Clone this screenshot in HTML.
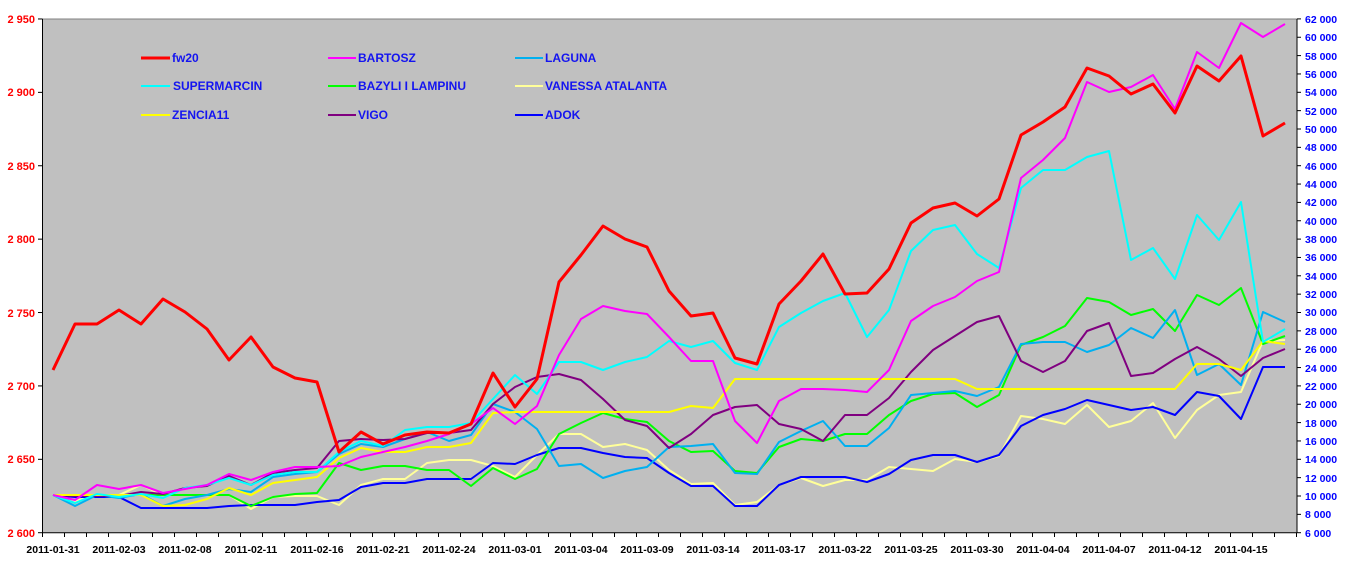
<!DOCTYPE html>
<html><head><meta charset="utf-8"><style>
html,body{margin:0;padding:0;background:#fff;}
svg{display:block;font-family:"Liberation Sans",Arial,sans-serif;font-weight:bold;}
</style></head><body>
<svg id="s" width="1362" height="572" viewBox="0 0 1362 572" xmlns="http://www.w3.org/2000/svg">
<rect x="42.5" y="19" width="1254.5" height="513.5" fill="#C0C0C0"/>
<line x1="42.5" y1="19" x2="1297" y2="19" stroke="#808080" stroke-width="1"/>
<g id="grid"></g>
<g id="lines" fill="none" stroke-linejoin="round"></g>
<line x1="42.5" y1="19" x2="42.5" y2="533" stroke="#000" stroke-width="1"/>
<line x1="1297" y1="19" x2="1297" y2="533" stroke="#000" stroke-width="1"/>
<line x1="42.5" y1="532.7" x2="1297" y2="532.7" stroke="#000" stroke-width="1"/>
<g font-size="11" fill="#FF0000" text-anchor="end">
<text x="35" y="23">2 950</text><text x="35" y="96">2 900</text><text x="35" y="170">2 850</text>
<text x="35" y="243">2 800</text><text x="35" y="317">2 750</text><text x="35" y="390">2 700</text>
<text x="35" y="463">2 650</text><text x="35" y="537">2 600</text>
</g>
<g font-size="10.5" fill="#0000FF" text-anchor="start">
<text x="1305" y="23">62 000</text><text x="1305" y="41">60 000</text><text x="1305" y="60">58 000</text><text x="1305" y="78">56 000</text>
<text x="1305" y="96">54 000</text><text x="1305" y="115">52 000</text><text x="1305" y="133">50 000</text><text x="1305" y="151">48 000</text>
<text x="1305" y="170">46 000</text><text x="1305" y="188">44 000</text><text x="1305" y="206">42 000</text><text x="1305" y="225">40 000</text>
<text x="1305" y="243">38 000</text><text x="1305" y="261">36 000</text><text x="1305" y="280">34 000</text><text x="1305" y="298">32 000</text>
<text x="1305" y="316">30 000</text><text x="1305" y="335">28 000</text><text x="1305" y="353">26 000</text><text x="1305" y="372">24 000</text>
<text x="1305" y="390">22 000</text><text x="1305" y="408">20 000</text><text x="1305" y="427">18 000</text><text x="1305" y="445">16 000</text>
<text x="1305" y="463">14 000</text><text x="1305" y="482">12 000</text><text x="1305" y="500">10 000</text><text x="1305" y="518">8 000</text>
<text x="1305" y="537">6 000</text>
</g>
<g font-size="10.5" fill="#000" text-anchor="middle">
<text x="53" y="553">2011-01-31</text><text x="119" y="553">2011-02-03</text><text x="185" y="553">2011-02-08</text>
<text x="251" y="553">2011-02-11</text><text x="317" y="553">2011-02-16</text><text x="383" y="553">2011-02-21</text>
<text x="449" y="553">2011-02-24</text><text x="515" y="553">2011-03-01</text><text x="581" y="553">2011-03-04</text>
<text x="647" y="553">2011-03-09</text><text x="713" y="553">2011-03-14</text><text x="779" y="553">2011-03-17</text>
<text x="845" y="553">2011-03-22</text><text x="911" y="553">2011-03-25</text><text x="977" y="553">2011-03-30</text>
<text x="1043" y="553">2011-04-04</text><text x="1109" y="553">2011-04-07</text><text x="1175" y="553">2011-04-12</text>
<text x="1241" y="553">2011-04-15</text>
</g>
<g font-size="12" fill="#1414F0">
<line x1="141" y1="58" x2="170" y2="58" stroke="#FF0000" stroke-width="3"/><text x="172" y="62">fw20</text>
<line x1="328" y1="58" x2="356" y2="58" stroke="#FF00FF" stroke-width="2"/><text x="358" y="62">BARTOSZ</text>
<line x1="515" y1="58" x2="543" y2="58" stroke="#00B0F0" stroke-width="2"/><text x="545" y="62">LAGUNA</text>
<line x1="141" y1="86" x2="170" y2="86" stroke="#00FFFF" stroke-width="2"/><text x="173" y="90">SUPERMARCIN</text>
<line x1="328" y1="86" x2="356" y2="86" stroke="#00FF00" stroke-width="2"/><text x="358" y="90">BAZYLI I LAMPINU</text>
<line x1="515" y1="86" x2="543" y2="86" stroke="#FFFF99" stroke-width="2"/><text x="545" y="90">VANESSA ATALANTA</text>
<line x1="141" y1="115" x2="170" y2="115" stroke="#FFFF00" stroke-width="2"/><text x="172" y="119">ZENCIA11</text>
<line x1="328" y1="115" x2="356" y2="115" stroke="#800080" stroke-width="2"/><text x="358" y="119">VIGO</text>
<line x1="515" y1="115" x2="543" y2="115" stroke="#0000FF" stroke-width="2"/><text x="545" y="119">ADOK</text>
</g>
</svg>
<script>
var NS="http://www.w3.org/2000/svg";
function el(p,t,a){var e=document.createElementNS(NS,t);for(var k in a)e.setAttribute(k,a[k]);p.appendChild(e);return e;}
var g=document.getElementById('grid');
for(var v=0;v<=7;v++){var y=532.7-v*73.39;el(g,'line',{x1:38,x2:42.5,y1:y,y2:y,stroke:'#000'});}
for(var v=0;v<=28;v++){var y=532.7-v*18.35;el(g,'line',{x1:1297,x2:1301,y1:y,y2:y,stroke:'#000'});}
for(var k=0;k<=57;k++){var x=42.5+22*k;el(g,'line',{x1:x,x2:x,y1:532.7,y2:537,stroke:'#000'});}
var S=[
["#FFFF99",2,[495,501,495,495,485,495,495,495,495,509,497,496,496,505,485,479,479,463,460,460,466,477,455,434,434,447,444,450,470,484,483,505,502,485,478,486,480,480,467,469,471,459,462,456,416,419,424,405,427,421,403,438,410,395,392,341,340]],
["#0000FF",2,[495,497,497,497,508,508,508,508,506,505,505,505,502,500,487,483,483,479,479,479,463,464,455,448,448,453,457,458,473,486,486,506,506,485,477,477,477,482,474,460,455,455,462,455,426,415,409,400,405,410,407,415,392,396,419,367,367]],
["#00FF00",2,[495,495,495,495,495,495,495,495,495,506,497,494,493,463,470,466,466,470,470,486,468,479,469,434,423,413,419,422,441,452,451,471,473,447,439,441,434,434,415,401,394,393,407,395,345,337,326,298,302,315,309,331,295,305,288,344,336]],
["#00B0F0",2,[495,506,495,498,494,506,499,495,489,492,477,474,472,454,444,447,439,432,441,435,404,412,429,466,464,478,471,467,447,446,444,473,474,442,431,421,446,446,428,395,393,391,396,387,344,342,342,352,345,328,338,310,375,364,385,312,322]],
["#800080",2,[495,496,496,496,492,494,488,486,476,485,473,470,468,441,439,440,439,433,433,430,404,387,377,374,380,399,420,426,448,434,415,407,405,424,429,441,415,415,398,372,350,336,322,316,361,372,361,331,323,376,373,359,347,359,376,358,349]],
["#FFFF00",2,[495,495,495,495,495,506,505,499,488,495,483,480,477,458,448,452,452,447,447,443,413,412,412,412,412,412,412,412,412,406,408,379,379,379,379,379,379,379,379,379,379,379,389,389,389,389,389,389,389,389,389,389,364,364,370,341,344]],
["#00FFFF",2,[495,503,494,497,494,498,488,485,478,485,475,472,472,452,441,446,430,427,427,423,399,375,394,362,362,370,362,357,341,347,341,363,370,327,313,301,293,337,310,251,230,225,254,268,188,170,170,157,151,260,248,279,215,240,202,342,329]],
["#FF00FF",2,[495,500,485,489,485,493,489,485,474,480,472,467,467,466,457,452,447,441,434,424,408,424,406,355,319,306,311,314,337,361,361,421,443,401,389,389,390,392,370,321,306,297,281,272,178,160,138,82,92,87,75,109,52,68,23,37,24]],
["#FF0000",3,[370,324,324,310,324,299,312,329,345,360,337,367,378,382,452,432,444,435,432,433,424,373,407,379,282,255,226,239,247,291,316,313,358,364,304,281,254,294,293,269,223,208,203,216,199,135,122,107,68,76,94,84,113,66,81,56,136,123]]
];
var L=document.getElementById('lines');
S.forEach(function(s){var d=s[2],p=[];
 var n=d.length;if(n>57){d=d.slice(0,8).concat(d.slice(9));n=57;}
 for(var i=0;i<n;i++)p.push((53+22*i)+","+d[i]);
 el(L,'polyline',{points:p.join(" "),stroke:s[0],'stroke-width':s[1]});});
</script>
</body></html>
